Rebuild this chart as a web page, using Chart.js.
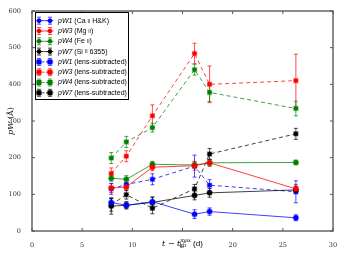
<!DOCTYPE html>
<html>
  <head>
    <title>pW evolution</title>
    <script src="https://cdn.jsdelivr.net/npm/chart.js@4"></script>
    <style>
      html, body { margin: 0; padding: 0; background: #fff; }
      #container { width: 344px; height: 258px; }
    </style>
  </head>
  <body>
    <div id="container">
      <canvas id="canvas" width="344" height="258"></canvas>
    </div>
    <script>
      // epochs, days since B max
      var tDays = [7.9, 9.4, 12.0, 16.2, 17.7, 26.3];

      // pseudo-equivalent widths (Å) and their errors
      var pW1 = [78, 70, 80, 46, 53, 36];
      var pW1Err = [10, 8, 12, 12, 10, 8];
      var pW3 = [117, 120, 174, 178, 186, 115];
      var pW3Err = [12, 10, 10, 12, 10, 12];
      var pW4 = [144, 141, 182, 180, 186, 187];
      var pW4Err = [8, 10, 8, 8, 8, 6];
      var pW7 = [68, 70, 78, 97, 104, 112];
      var pW7Err = [22, 10, 15, 12, 12, 10];

      // lens-subtracted
      var pW1L = [115, 127, 141, 177, 125, 107];
      var pW1LErr = [15, 12, 15, 30, 15, 30];
      var pW3L = [157, 204, 314, 484, 400, 410];
      var pW3LErr = [15, 15, 30, 28, 50, 72];
      var pW4L = [199, 243, 282, 440, 378, 334];
      var pW4LErr = [15, 15, 12, 15, 25, 20];
      var pW7L = [72, 99, 62, 115, 210, 265];
      var pW7LErr = [18, 12, 15, 12, 15, 15];

      var tErr = 0.25;

      var xTicks = [0, 5, 10, 15, 20, 25, 30];
      var yTicks = [0, 100, 200, 300, 400, 500, 600];

      var seriesInfo = [
        { name: 'pW1', rest: ' (Ca ', ion: 'II', tail: ' H&K)', y: pW1, e: pW1Err, color: '0,0,255', dashed: false },
        { name: 'pW3', rest: ' (Mg ', ion: 'II', tail: ')', y: pW3, e: pW3Err, color: '255,0,0', dashed: false },
        { name: 'pW4', rest: ' (Fe ', ion: 'II', tail: ')', y: pW4, e: pW4Err, color: '0,128,0', dashed: false },
        { name: 'pW7', rest: ' (Si ', ion: 'II', tail: ' 6355)', y: pW7, e: pW7Err, color: '0,0,0', dashed: false },
        { name: 'pW1', rest: ' (lens-subtracted)', ion: '', tail: '', y: pW1L, e: pW1LErr, color: '0,0,255', dashed: true },
        { name: 'pW3', rest: ' (lens-subtracted)', ion: '', tail: '', y: pW3L, e: pW3LErr, color: '255,0,0', dashed: true },
        { name: 'pW4', rest: ' (lens-subtracted)', ion: '', tail: '', y: pW4L, e: pW4LErr, color: '0,128,0', dashed: true },
        { name: 'pW7', rest: ' (lens-subtracted)', ion: '', tail: '', y: pW7L, e: pW7LErr, color: '0,0,0', dashed: true }
      ];

      var datasets = seriesInfo.map(function (s) {
        return {
          label: s.name + s.rest + s.ion + s.tail,
          data: tDays.map(function (t, i) { return { x: t, y: s.y[i] }; }),
          errors: s.e,
          rgb: s.color,
          showLine: true,
          borderColor: 'rgba(' + s.color + ',0.75)',
          borderWidth: 1,
          borderDash: s.dashed ? [4, 3] : [],
          pointStyle: s.dashed ? 'rect' : 'circle',
          pointRadius: s.dashed ? 2.8 : 2.5,
          pointBackgroundColor: 'rgb(' + s.color + ')',
          pointBorderColor: 'rgba(' + s.color + ',0.35)',
          pointBorderWidth: 1.5
        };
      });

      var errorBars = {
        id: 'errorBars',
        beforeDatasetsDraw: function (chart) {
          var ctx = chart.ctx;
          var xs = chart.scales.x, ys = chart.scales.y;
          chart.data.datasets.forEach(function (ds) {
            ctx.save();
            ctx.strokeStyle = 'rgba(' + ds.rgb + ',0.7)';
            ctx.lineWidth = 1;
            ds.data.forEach(function (p, i) {
              var px = xs.getPixelForValue(p.x);
              var py = ys.getPixelForValue(p.y);
              var top = ys.getPixelForValue(p.y + ds.errors[i]);
              var bot = ys.getPixelForValue(p.y - ds.errors[i]);
              var l = xs.getPixelForValue(p.x - tErr);
              var r = xs.getPixelForValue(p.x + tErr);
              ctx.beginPath();
              ctx.moveTo(px, top); ctx.lineTo(px, bot);
              ctx.moveTo(px - 2, top); ctx.lineTo(px + 2, top);
              ctx.moveTo(px - 2, bot); ctx.lineTo(px + 2, bot);
              ctx.moveTo(l, py); ctx.lineTo(r, py);
              ctx.stroke();
            });
            ctx.restore();
          });
        }
      };

      var frame = {
        id: 'frame',
        afterDraw: function (chart) {
          var ctx = chart.ctx;
          var a = chart.chartArea;
          var xs = chart.scales.x, ys = chart.scales.y;
          ctx.save();
          ctx.strokeStyle = '#666';
          ctx.lineWidth = 1.5;
          ctx.strokeRect(a.left, a.top, a.right - a.left, a.bottom - a.top);
          ctx.lineWidth = 1;
          ctx.strokeStyle = '#555';
          ctx.beginPath();
          xTicks.forEach(function (v) {
            var x = xs.getPixelForValue(v);
            ctx.moveTo(x, a.bottom); ctx.lineTo(x, a.bottom - 3);
            ctx.moveTo(x, a.top); ctx.lineTo(x, a.top + 3);
          });
          yTicks.forEach(function (v) {
            var y = ys.getPixelForValue(v);
            ctx.moveTo(a.left, y); ctx.lineTo(a.left + 3, y);
            ctx.moveTo(a.right, y); ctx.lineTo(a.right - 3, y);
          });
          ctx.stroke();

          // axis titles
          ctx.fillStyle = '#000';
          ctx.textBaseline = 'middle';
          var cx = (a.left + a.right) / 2;
          var parts = [
            { t: 't', f: 'italic 8px "DejaVu Serif"', dy: 0 },
            { t: ' \u2212 ', f: '8px "DejaVu Serif"', dy: 0 },
            { t: 't', f: 'italic 8px "DejaVu Serif"', dy: 0 }
          ];
          var w = 0;
          parts.forEach(function (p) { ctx.font = p.f; w += ctx.measureText(p.t).width; });
          ctx.font = '5px "DejaVu Serif"';
          var supW = ctx.measureText('max').width;
          ctx.font = '8px "Liberation Sans"';
          var tailW = ctx.measureText(' (d)').width;
          var x0 = cx - (w + supW + tailW) / 2;
          var yTitle = 244;
          parts.forEach(function (p) {
            ctx.font = p.f;
            ctx.textAlign = 'left';
            ctx.fillText(p.t, x0, yTitle);
            x0 += ctx.measureText(p.t).width;
          });
          ctx.font = 'italic 5px "DejaVu Serif"';
          ctx.fillText('B', x0, yTitle + 2.5);
          ctx.font = '5px "DejaVu Serif"';
          ctx.fillText('max', x0, yTitle - 3);
          x0 += supW;
          ctx.font = '8px "Liberation Sans"';
          ctx.fillText(' (d)', x0, yTitle);

          // y title
          ctx.save();
          ctx.translate(11, (a.top + a.bottom) / 2);
          ctx.rotate(-Math.PI / 2);
          ctx.font = 'italic 8px "DejaVu Serif"';
          var w1 = ctx.measureText('pW').width;
          ctx.font = '8px "DejaVu Serif"';
          var w2 = ctx.measureText(' (\u00c5)').width;
          ctx.textAlign = 'left';
          ctx.font = 'italic 8px "DejaVu Serif"';
          ctx.fillText('pW', -(w1 + w2) / 2, 0);
          ctx.font = '8px "DejaVu Serif"';
          ctx.fillText(' (\u00c5)', -(w1 + w2) / 2 + w1, 0);
          ctx.restore();

          // legend
          var lx = 35, ly = 12, lw = 93, lh = 87;
          ctx.fillStyle = '#fff';
          ctx.fillRect(lx, ly, lw, lh);
          ctx.strokeStyle = '#000';
          ctx.lineWidth = 1;
          ctx.strokeRect(lx + 0.5, ly + 0.5, lw, lh);
          seriesInfo.forEach(function (s, i) {
            var ry = 20.7 + i * 10.3;
            ctx.strokeStyle = 'rgba(' + s.color + ',0.7)';
            ctx.beginPath();
            [39, 50].forEach(function (mx) {
              ctx.moveTo(mx - 3.5, ry); ctx.lineTo(mx + 3.5, ry);
              ctx.moveTo(mx, ry - 3.5); ctx.lineTo(mx, ry + 3.5);
              ctx.moveTo(mx - 2, ry - 3.5); ctx.lineTo(mx + 2, ry - 3.5);
              ctx.moveTo(mx - 2, ry + 3.5); ctx.lineTo(mx + 2, ry + 3.5);
            });
            ctx.stroke();
            ctx.setLineDash(s.dashed ? [2, 1.5] : []);
            ctx.strokeStyle = 'rgba(' + s.color + ',0.75)';
            ctx.beginPath();
            ctx.moveTo(39, ry); ctx.lineTo(50, ry);
            ctx.stroke();
            ctx.setLineDash([]);
            ctx.fillStyle = 'rgb(' + s.color + ')';
            [39, 50].forEach(function (mx) {
              ctx.beginPath();
              if (s.dashed) ctx.rect(mx - 2.5, ry - 2.5, 5, 5);
              else ctx.arc(mx, ry, 2.3, 0, Math.PI * 2);
              ctx.fill();
            });
            ctx.fillStyle = '#000';
            ctx.textAlign = 'left';
            var tx = 58;
            ctx.font = 'italic 7px "Liberation Sans"';
            ctx.fillText(s.name, tx, ry);
            tx += ctx.measureText(s.name).width;
            ctx.font = '7px "Liberation Sans"';
            ctx.fillText(s.rest, tx, ry);
            tx += ctx.measureText(s.rest).width;
            if (s.ion) {
              ctx.font = '5px "Liberation Sans"';
              ctx.fillText(s.ion, tx, ry + 0.5);
              tx += ctx.measureText(s.ion).width;
              ctx.font = '7px "Liberation Sans"';
              ctx.fillText(s.tail, tx, ry);
            }
          });
          ctx.restore();
        }
      };

      window.onload = function () {
        var ctx = document.getElementById('canvas').getContext('2d');
        window.myChart = new Chart(ctx, {
          type: 'scatter',
          data: { datasets: datasets },
          options: {
            responsive: false,
            animation: false,
            layout: { padding: { top: 11, right: 11, left: 0, bottom: 0 } },
            plugins: { legend: { display: false }, tooltip: { enabled: false } },
            scales: {
              x: {
                type: 'linear',
                min: 0,
                max: 30,
                afterFit: function (scale) { scale.height = 27; },
                afterBuildTicks: function (scale) {
                  scale.ticks = xTicks.map(function (v) { return { value: v }; });
                },
                grid: { display: false },
                border: { display: false },
                ticks: {
                  color: '#333',
                  padding: 2,
                  font: { family: 'DejaVu Serif', size: 6.5 }
                }
              },
              y: {
                type: 'linear',
                min: 0,
                max: 600,
                afterFit: function (scale) { scale.width = 32; },
                afterBuildTicks: function (scale) {
                  scale.ticks = yTicks.map(function (v) { return { value: v }; });
                },
                grid: { display: false },
                border: { display: false },
                ticks: {
                  color: '#333',
                  padding: 3,
                  font: { family: 'DejaVu Serif', size: 6.5 }
                }
              }
            }
          },
          plugins: [errorBars, frame]
        });
      };
    </script>
  </body>
</html>
